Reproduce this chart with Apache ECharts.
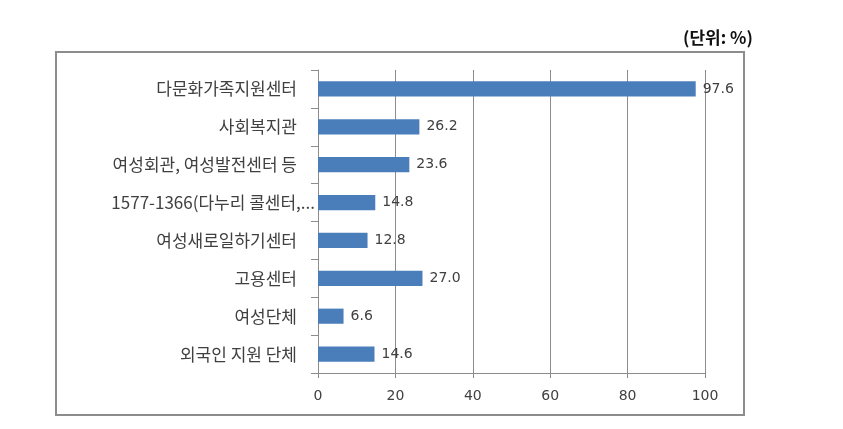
<!DOCTYPE html>
<html><head><meta charset="utf-8">
<script src="https://cdn.jsdelivr.net/npm/echarts@6/dist/echarts.min.js"></script>
<style>html,body{margin:0;padding:0;background:#fff}#c{width:843px;height:429px}</style>
</head><body><div id="c"></div>
<script>
const categories = ['다문화가족지원센터','사회복지관','여성회관, 여성발전센터 등','1577-1366(다누리 콜센터,...','여성새로일하기센터','고용센터','여성단체','외국인 지원 단체'];
const values = [97.6, 26.2, 23.6, 14.8, 12.8, 27.0, 6.6, 14.6];
const tickValues = [0, 20, 40, 60, 80, 100];
const unitText = '(단위: %)';

const chart = echarts.init(document.getElementById('c'));
chart.setOption({
  animation: false,
  backgroundColor: '#fff',
  graphic: [
    {type: 'rect', shape: {x: 56, y: 52, width: 688, height: 363}, style: {fill: 'none', stroke: '#8c8c8c', lineWidth: 2}, z: 0},
    {type: 'text', left: 683, top: 29, style: {text: unitText, fill: '#111', font: 'bold 17px "Noto Sans CJK KR", sans-serif'}}
  ],
  grid: {left: 318, right: 138, top: 70, bottom: 56},
  xAxis: {
    type: 'value', min: tickValues[0], max: tickValues[tickValues.length-1], interval: 20,
    axisLine: {show: true, lineStyle: {color: '#8c8c8c'}},
    axisTick: {show: true, length: 5, lineStyle: {color: '#8c8c8c'}},
    splitLine: {show: true, lineStyle: {color: '#8c8c8c', width: 1}},
    axisLabel: {color: '#404040', fontSize: 14, margin: 16, fontFamily: 'DejaVu Sans'}
  },
  yAxis: {
    type: 'category', data: categories, inverse: true,
    axisLine: {show: true, lineStyle: {color: '#8c8c8c'}},
    axisTick: {show: true, length: 7, lineStyle: {color: '#8c8c8c'}},
    axisLabel: {
      color: '#404040', fontSize: 17, margin: 3, fontFamily: '"Noto Sans CJK KR", sans-serif',
      formatter: v => v.endsWith('...') ? '{t|' + v + '}' : '{n|' + v + '}',
      rich: {
        t: {fontSize: 17, color: '#404040', fontFamily: '"Noto Sans CJK KR", sans-serif'},
        n: {fontSize: 17, color: '#404040', fontFamily: '"Noto Sans CJK KR", sans-serif', padding: [0, 18, 0, 0]}
      }
    }
  },
  series: [{
    type: 'bar', data: values, barCategoryGap: '60%',
    itemStyle: {color: '#4a7ebb'},
    label: {show: true, position: 'right', distance: 7, color: '#404040', fontSize: 14, fontFamily: 'DejaVu Sans', formatter: p => p.value.toFixed(1)}
  }]
});
</script></body></html>
